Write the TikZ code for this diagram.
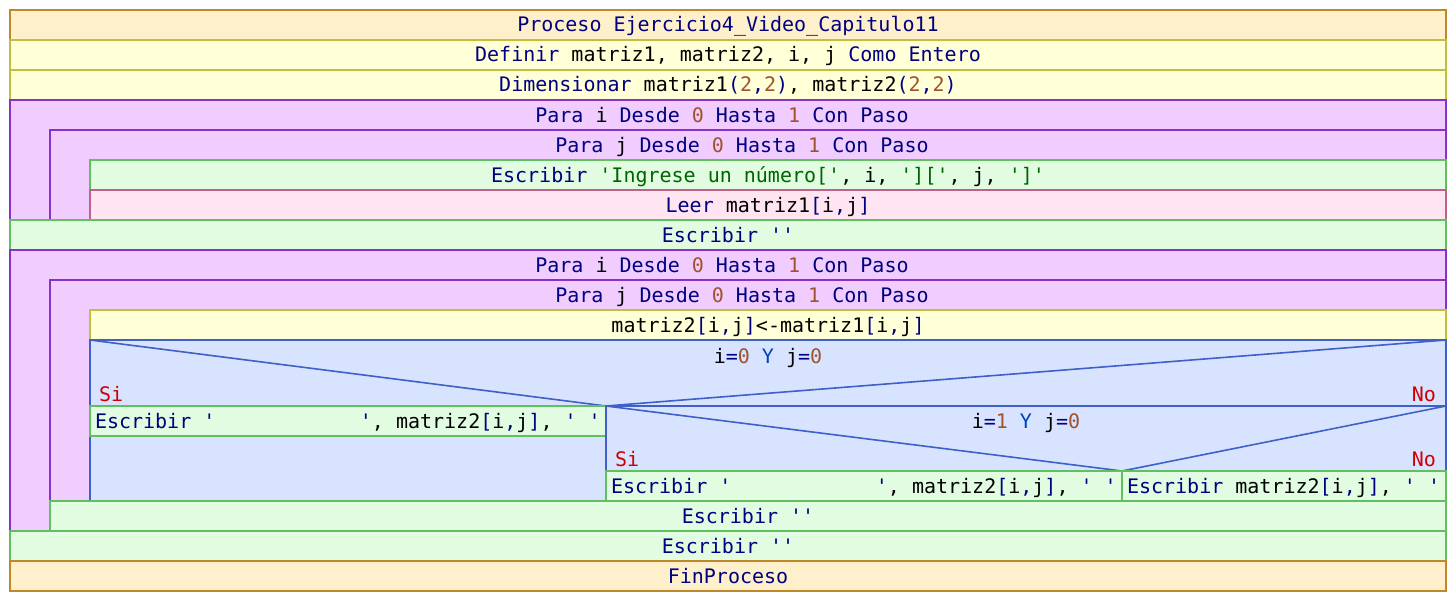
\documentclass[tikz,border=0pt]{standalone}
\usepackage{fontspec}
\newfontfamily\mono{DejaVu Sans Mono}[Ligatures=TeXOff]
\definecolor{procF}{HTML}{FFF0CC}\definecolor{procD}{HTML}{C08828}
\definecolor{defF}{HTML}{FFFFD8}\definecolor{defD}{HTML}{C0C040}
\definecolor{paraF}{HTML}{F0CCFF}\definecolor{paraD}{HTML}{8830C8}
\definecolor{escF}{HTML}{E2FCE2}\definecolor{escD}{HTML}{60C060}
\definecolor{leerF}{HTML}{FFE4F2}\definecolor{leerD}{HTML}{C06088}
\definecolor{siF}{HTML}{D8E4FF}\definecolor{siD}{HTML}{4060C8}
\definecolor{kw}{HTML}{000080}
\definecolor{num}{HTML}{A0522D}
\definecolor{strc}{HTML}{006400}
\definecolor{ycol}{HTML}{0040C0}
\definecolor{lab}{HTML}{D00000}
\newcommand\kwd[1]{\textcolor{kw}{#1}}
\newcommand\numb[1]{\textcolor{num}{#1}}
\newcommand\strg[1]{\textcolor{strc}{#1}}
\newcommand\q{'}
\begin{document}
\begin{tikzpicture}[x=1pt,y=-1pt,
  every node/.style={inner sep=0pt,outer sep=0pt,font=\mono\fontsize{20}{24}\selectfont\frenchspacing},
  txt/.style={anchor=base},
  txtw/.style={anchor=base west},
  procbox/.style={fill=procF,draw=procD,line width=1.6pt},
  defbox/.style={fill=defF,draw=defD,line width=1.6pt},
  parabox/.style={fill=paraF,draw=paraD,line width=1.6pt},
  escbox/.style={fill=escF,draw=escD,line width=1.6pt},
  leerbox/.style={fill=leerF,draw=leerD,line width=1.6pt},
  sibox/.style={fill=siF,draw=siD,line width=1.6pt},
  siline/.style={draw=siD,line width=1.6pt},
  lbl/.style={text=lab}]
\useasboundingbox[fill=white] (0,0) rectangle (1456,602);
% Proceso
\path[procbox] (10,10) rectangle (1446,40);
\node[txt] (t1) at (728,32) {\kwd{Proceso Ejercicio4\_Video\_Capitulo11}};
\path[defbox] (10,40) rectangle (1446,70);
\node[txt] (t2) at (728,62) {\kwd{Definir} matriz1, matriz2, i, j \kwd{Como Entero}};
\path[defbox] (10,70) rectangle (1446,100);
\node[txt] (t3) at (728,92) {\kwd{Dimensionar} matriz1\kwd{(}\numb{2}\kwd{,}\numb{2}\kwd{)}, matriz2\kwd{(}\numb{2}\kwd{,}\numb{2}\kwd{)}};
% first loops
\path[parabox] (10,100) rectangle (1446,220);
\node[txt] (t4) at (728,122) {\kwd{Para} i \kwd{Desde} \numb{0} \kwd{Hasta} \numb{1} \kwd{Con Paso}\hphantom{0}};
\path[parabox] (50,130) rectangle (1446,220);
\node[txt] (t5) at (748,152) {\kwd{Para} j \kwd{Desde} \numb{0} \kwd{Hasta} \numb{1} \kwd{Con Paso}\hphantom{0}};
\path[escbox] (90,160) rectangle (1446,190);
\node[txt] (t6) at (768,182) {\kwd{Escribir} \strg{\q Ingrese un número[\q}, i, \strg{\q][\q}, j, \strg{\q]\q}};
\path[leerbox] (90,190) rectangle (1446,220);
\node[txt] (t7) at (768,212) {\kwd{Leer} matriz1\kwd{[}i\kwd{,}j\kwd{]}};
\path[escbox] (10,220) rectangle (1446,250);
\node[txt] (t8) at (728,242) {\kwd{Escribir \q\q}};
% second loops
\path[parabox] (10,250) rectangle (1446,531);
\node[txt] (t9) at (728,272) {\kwd{Para} i \kwd{Desde} \numb{0} \kwd{Hasta} \numb{1} \kwd{Con Paso}\hphantom{0}};
\path[parabox] (50,280) rectangle (1446,501);
\node[txt] (t10) at (748,302) {\kwd{Para} j \kwd{Desde} \numb{0} \kwd{Hasta} \numb{1} \kwd{Con Paso}\hphantom{0}};
\path[defbox] (90,310) rectangle (1446,340);
\node[txt] (t11) at (768,332) {matriz2\kwd{[}i\kwd{,}j\kwd{]}<-matriz1\kwd{[}i\kwd{,}j\kwd{]}};
% outer if
\path[sibox] (90,340) rectangle (1446,501);
\coordinate (a1) at (90,340);
\coordinate (a2) at (1446,340);
\coordinate (a3) at (606,406);
\path[siline] (a1) -- (a3) -- (a2);
\node[txt] (t12) at (768,363) {i\kwd{=}\numb{0} \textcolor{ycol}{Y} j\kwd{=}\numb{0}};
\node[txtw,lbl] (si1) at (99,401) {Si};
\node[anchor=base east,lbl] (no1) at (1436,401) {No};
\path[escbox] (90,406) rectangle (606,436);
\node[txtw] (t13) at (95,428) {\kwd{Escribir \q}\hphantom{000000000000}\kwd{\q}, matriz2\kwd{[}i\kwd{,}j\kwd{]}, \kwd{\q\ \q}};
% inner if
\path[sibox] (606,406) rectangle (1446,501);
\coordinate (b1) at (606,406);
\coordinate (b2) at (1446,406);
\coordinate (b3) at (1122,471);
\path[siline] (b1) -- (b3) -- (b2);
\node[txt] (t14) at (1026,428) {i\kwd{=}\numb{1} \textcolor{ycol}{Y} j\kwd{=}\numb{0}};
\node[txtw,lbl] (si2) at (615,466) {Si};
\node[anchor=base east,lbl] (no2) at (1436,466) {No};
\path[escbox] (606,471) rectangle (1122,501);
\node[txtw] (t15) at (611,493) {\kwd{Escribir \q}\hphantom{000000000000}\kwd{\q}, matriz2\kwd{[}i\kwd{,}j\kwd{]}, \kwd{\q\ \q}};
\path[escbox] (1122,471) rectangle (1446,501);
\node[txtw] (t16) at (1127,493) {\kwd{Escribir} matriz2\kwd{[}i\kwd{,}j\kwd{]}, \kwd{\q\ \q}};
% tail
\path[escbox] (50,501) rectangle (1446,531);
\node[txt] (t17) at (748,523) {\kwd{Escribir \q\q}};
\path[escbox] (10,531) rectangle (1446,561);
\node[txt] (t18) at (728,553) {\kwd{Escribir \q\q}};
\path[procbox] (10,561) rectangle (1446,591);
\node[txt] (t19) at (728,583) {\kwd{FinProceso}};
\end{tikzpicture}
\end{document}
